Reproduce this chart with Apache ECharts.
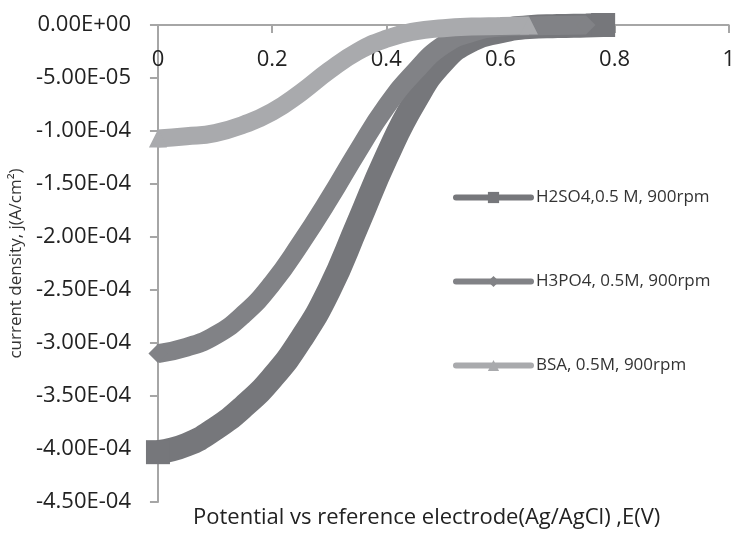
<!DOCTYPE html>
<html>
<head>
<meta charset="utf-8">
<script src="https://cdn.jsdelivr.net/npm/echarts@6/dist/echarts.min.js"></script>
<style>
  html, body { margin: 0; padding: 0; background: #fff; }
  #chart { width: 738px; height: 535px; }
</style>
</head>
<body>
<div id="chart"></div>
<script>
// 电位 (V) 与电流密度 (A/cm2) 数据
const xH2SO4 = [0, 0.05, 0.1, 0.15, 0.2, 0.25, 0.3, 0.35, 0.4, 0.45, 0.5, 0.55, 0.6, 0.65, 0.7, 0.75, 0.78];
const yH2SO4 = [-4.03e-4, -3.96e-4, -3.81e-4, -3.60e-4, -3.33e-4, -2.97e-4, -2.50e-4, -1.88e-4, -1.25e-4, -0.72e-4, -0.34e-4, -0.14e-4, -0.06e-4, -0.02e-4, -0.01e-4, -0.004e-4, 0];

const xH3PO4 = [0, 0.05, 0.1, 0.15, 0.2, 0.25, 0.3, 0.35, 0.4, 0.45, 0.5, 0.55, 0.6, 0.65, 0.7, 0.75];
const yH3PO4 = [-3.10e-4, -3.04e-4, -2.93e-4, -2.73e-4, -2.44e-4, -2.06e-4, -1.64e-4, -1.19e-4, -0.77e-4, -0.44e-4, -0.19e-4, -0.07e-4, -0.02e-4, -0.01e-4, -0.004e-4, 0];

const xBSA = [0, 0.05, 0.1, 0.15, 0.2, 0.25, 0.3, 0.35, 0.4, 0.45, 0.5, 0.55, 0.6, 0.65];
const yBSA = [-1.07e-4, -1.05e-4, -1.02e-4, -0.94e-4, -0.82e-4, -0.64e-4, -0.43e-4, -0.25e-4, -0.13e-4, -0.06e-4, -0.03e-4, -0.015e-4, -0.01e-4, -0.005e-4];

const seriesNames = ['H2SO4,0.5 M, 900rpm', 'H3PO4, 0.5M, 900rpm', 'BSA, 0.5M, 900rpm'];

const font = '"Open Sans", sans-serif';
const axisGray = '#a6a6a6';

// 科学计数法格式：-5.00E-05
function sci(v) {
  if (Math.abs(v) < 1e-12) return '0.00E+00';
  const parts = v.toExponential(2).split('e');
  const n = parseInt(parts[1], 10);
  return parts[0] + 'E' + (n < 0 ? '-' : '+') + String(Math.abs(n)).padStart(2, '0');
}

function pairs(xs, ys) {
  return xs.map((x, i) => [x, ys[i]]);
}

// 只在首尾画出标记
function endSize(size, len) {
  return (v, p) => (p.dataIndex === 0 || p.dataIndex === len - 1 ? size : 0);
}

function makeSeries(name, xs, ys, color, width, symbol, z) {
  return {
    name: name,
    type: 'line',
    smooth: true,
    clip: false,
    z: z,
    symbol: symbol,
    symbolSize: endSize(width, xs.length),
    showSymbol: true,
    itemStyle: { color: color },
    lineStyle: { color: color, width: width },
    emphasis: { disabled: true },
    data: pairs(xs, ys)
  };
}

const chart = echarts.init(document.getElementById('chart'));

chart.setOption({
  animation: false,
  title: {
    text: 'Potential vs reference electrode(Ag/AgCl) ,E(V)',
    left: 188,
    top: 502,
    textStyle: { fontFamily: font, fontSize: 22, fontWeight: 'normal', color: '#222' }
  },
  legend: {
    orient: 'vertical',
    align: 'left',
    left: 448,
    top: 184,
    itemWidth: 75,
    itemHeight: 14,
    itemGap: 67,
    lineStyle: { width: 6, cap: 'round' },
    textStyle: { fontFamily: font, fontSize: 17, color: '#333' },
    data: seriesNames
  },
  grid: { left: 157, right: 6, top: 25, bottom: 33, containLabel: false },
  xAxis: {
    type: 'value',
    position: 'top',
    min: 0,
    max: 1,
    interval: 0.2,
    axisLine: { show: true, lineStyle: { color: axisGray, width: 2 } },
    axisTick: { show: true, inside: true, length: 8, lineStyle: { color: axisGray, width: 2 } },
    axisLabel: {
      inside: true,
      margin: 24,
      fontFamily: font,
      fontSize: 22,
      color: '#222',
      formatter: v => String(Math.round(v * 10) / 10)
    },
    splitLine: { show: false }
  },
  yAxis: {
    type: 'value',
    min: -4.5e-4,
    max: 0,
    interval: 5e-5,
    name: 'current density, j(A/cm²)',
    nameLocation: 'middle',
    nameRotate: 90,
    nameGap: 119,
    nameTextStyle: { fontFamily: font, fontSize: 17, color: '#333' },
    axisLine: { show: true, lineStyle: { color: axisGray, width: 2 } },
    axisTick: { show: true, length: 8, lineStyle: { color: axisGray, width: 2 } },
    axisLabel: {
      margin: 27,
      fontFamily: font,
      fontSize: 22,
      color: '#222',
      formatter: sci
    },
    splitLine: { show: false }
  },
  series: [
    makeSeries(seriesNames[0], xH2SO4, yH2SO4, '#76777b', 24, 'rect', 2),
    makeSeries(seriesNames[1], xH3PO4, yH3PO4, '#818286', 19, 'diamond', 3),
    makeSeries(seriesNames[2], xBSA, yBSA, '#a9aaad', 18, 'triangle', 4)
  ]
});

window.addEventListener('resize', () => chart.resize());
</script>
</body>
</html>
